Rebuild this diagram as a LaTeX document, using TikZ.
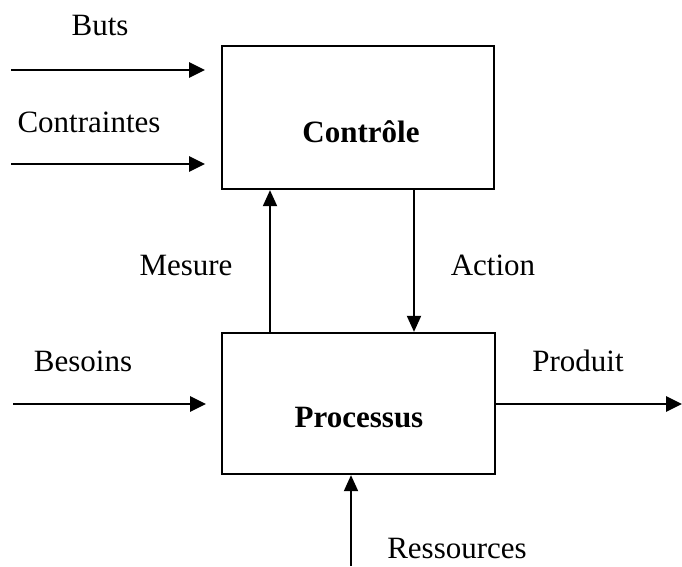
\documentclass[tikz,border=0pt]{standalone}
\usepackage{fontspec}
\setmainfont{Liberation Serif}
\usetikzlibrary{arrows.meta}
\begin{document}
\begin{tikzpicture}[x=1pt,y=-1pt,
  box/.style={draw, line width=2.3pt, minimum width=#1, inner sep=0pt},
  lbl/.style={anchor=base, inner sep=0pt, font=\fontsize{31}{36}\selectfont},
  blbl/.style={anchor=base, inner sep=0pt, font=\fontsize{31}{36}\selectfont\bfseries},
  harr/.style={line width=2.7pt, -{Triangle[length=16pt,width=15pt]}},
  varr/.style={line width=1.9pt, -{Triangle[length=16pt,width=14pt]}}]
\useasboundingbox (0,0) rectangle (682,566);
% boxes
\node[box=272pt, minimum height=143pt] (ctrl) at (358,117.5) {};
\node[box=273pt, minimum height=141pt] (proc) at (358.5,403.5) {};
% texts
\node[blbl] (tctrl) at (361,142) {Contrôle};
\node[blbl] (tproc) at (359,427) {Processus};
\node[lbl] (buts) at (100,35) {Buts};
\node[lbl] (contr) at (89,132) {Contraintes};
\node[lbl] (mes) at (186,275) {Mesure};
\node[lbl] (act) at (493,275) {Action};
\node[lbl] (bes) at (83,371) {Besoins};
\node[lbl] (prod) at (578,371) {Produit};
\node[lbl] (res) at (457,558) {Ressources};
% coordinates
\coordinate (b0) at (11,70);  \coordinate (b1) at (205,70);
\coordinate (c0) at (11,164); \coordinate (c1) at (205,164);
\coordinate (n0) at (13,404); \coordinate (n1) at (206,404);
\coordinate (p1) at (682,404);
\coordinate (r0) at (351,566);
% arrows
\draw[harr] (b0) -- (b1);
\draw[harr] (c0) -- (c1);
\draw[harr] (n0) -- (n1);
\draw[harr] (proc.east |- p1) -- (p1);
\draw[varr] (proc.north -| 270,0) -- (ctrl.south -| 270,0);
\draw[varr] (ctrl.south -| 414,0) -- (proc.north -| 414,0);
\draw[varr] (r0) -- (proc.south -| r0);
\end{tikzpicture}
\end{document}
